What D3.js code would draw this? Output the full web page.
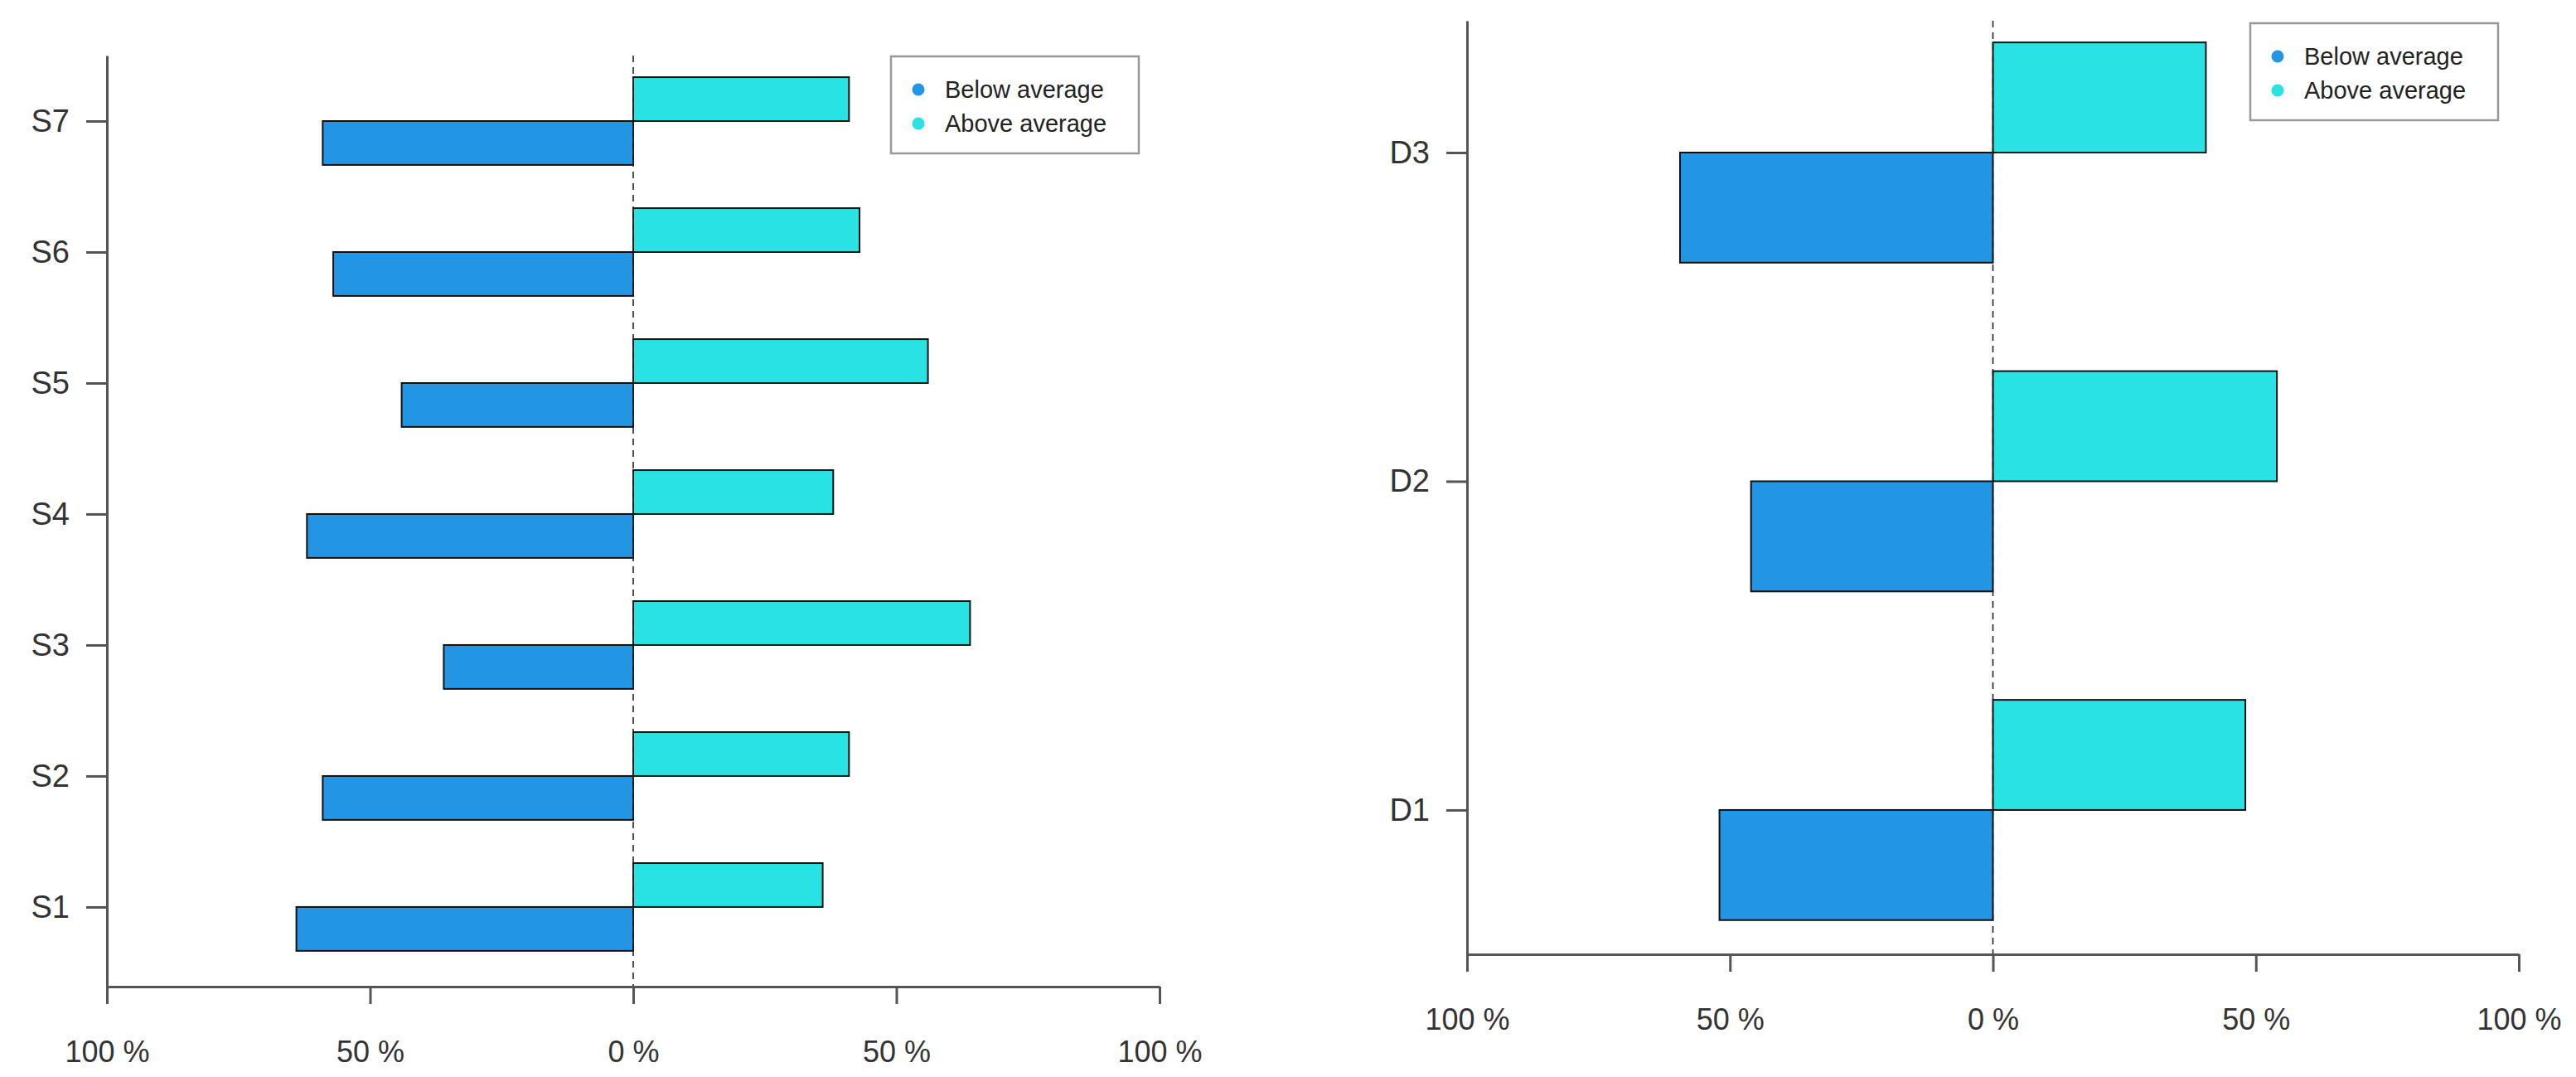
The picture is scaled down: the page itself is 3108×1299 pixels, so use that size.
<!DOCTYPE html>
<html>
<head>
<meta charset="utf-8">
<script src="https://cdn.jsdelivr.net/npm/d3@7"></script>
<style>
  html, body { margin: 0; padding: 0; background: #fff; }
  svg { display: block; font-family: "Liberation Sans", Arial, sans-serif; }
</style>
</head>
<body>
<svg id="chart" width="3108" height="1299"></svg>
<script>
// ---- data ----
const leftCategories = ["S1", "S2", "S3", "S4", "S5", "S6", "S7"];
const leftBelow = [64, 59, 36, 62, 44, 57, 59];
const leftAbove = [36, 41, 64, 38, 56, 43, 41];

const rightCategories = ["D1", "D2", "D3"];
const rightBelow = [52, 46, 59.5];
const rightAbove = [48, 54, 40.5];

const seriesNames = ["Below average", "Above average"];
const seriesColors = ["#2295E4", "#29E2E4"];
const xTickValues = [-100, -50, 0, 50, 100];

const svg = d3.select("#chart");

function panel(cfg) {
  const g = svg.append("g");
  const x = d3.scaleLinear().domain([-100, 100]).range([cfg.x0, cfg.x1]);
  const n = cfg.categories.length;
  const y = d3.scaleLinear().domain([cfg.yLo, n - 1 + cfg.yHi]).range([cfg.yBottom, cfg.yTop]);
  const h = 0.335;

  // bars
  const rows = cfg.categories.map((c, i) => ({ c, i, below: cfg.below[i], above: cfg.above[i] }));
  g.selectAll("rect.above").data(rows).join("rect")
    .attr("class", "above")
    .attr("x", d => x(0))
    .attr("y", d => y(d.i + h))
    .attr("width", d => x(d.above) - x(0))
    .attr("height", d => y(d.i) - y(d.i + h))
    .attr("fill", seriesColors[1])
    .attr("stroke", "#111").attr("stroke-width", 2);
  g.selectAll("rect.below").data(rows).join("rect")
    .attr("class", "below")
    .attr("x", d => x(-d.below))
    .attr("y", d => y(d.i))
    .attr("width", d => x(0) - x(-d.below))
    .attr("height", d => y(d.i - h) - y(d.i))
    .attr("fill", seriesColors[0])
    .attr("stroke", "#111").attr("stroke-width", 2);

  // zero dashed line
  g.append("line")
    .attr("x1", x(0)).attr("x2", x(0))
    .attr("y1", cfg.yTop).attr("y2", cfg.yBottom)
    .attr("stroke", "#222").attr("stroke-width", 1.6)
    .attr("stroke-dasharray", "8,6");

  // x axis
  const xAxis = d3.axisBottom(x).tickValues(xTickValues)
    .tickFormat(v => Math.abs(v) + " %").tickSize(21).tickSizeOuter(0).tickPadding(44);
  const gx = g.append("g").attr("transform", `translate(0,${cfg.yBottom})`).call(xAxis);
  gx.select(".domain").attr("stroke", "#555").attr("stroke-width", 3);
  gx.selectAll(".tick line").attr("stroke", "#555").attr("stroke-width", 3);
  gx.selectAll(".tick text").attr("font-size", 36).attr("fill", "#333")
    .attr("font-family", "Liberation Sans, Arial, sans-serif");

  // y axis
  const yAxis = d3.axisLeft(y).tickValues(d3.range(n))
    .tickFormat(i => cfg.categories[i]).tickSize(25).tickSizeOuter(0).tickPadding(20);
  const gy = g.append("g").attr("transform", `translate(${cfg.x0},0)`).call(yAxis);
  gy.select(".domain").attr("stroke", "#555").attr("stroke-width", 3);
  gy.selectAll(".tick line").attr("stroke", "#555").attr("stroke-width", 3);
  gy.selectAll(".tick text").attr("font-size", 38).attr("fill", "#333")
    .attr("font-family", "Liberation Sans, Arial, sans-serif");

  // legend
  const lg = g.append("g").attr("transform", `translate(${cfg.legX},${cfg.legY})`);
  lg.append("rect").attr("x", 0).attr("y", 0).attr("width", 299).attr("height", 117)
    .attr("fill", "#fff").attr("stroke", "#999").attr("stroke-width", 2.5);
  seriesNames.forEach((name, k) => {
    lg.append("circle").attr("cx", 33).attr("cy", 40 + k * 41).attr("r", 7.5)
      .attr("fill", seriesColors[k]);
    lg.append("text").attr("x", 65).attr("y", 40 + k * 41).attr("dy", "0.36em")
      .attr("font-size", 29).attr("fill", "#222").text(name);
  });
}

panel({
  categories: leftCategories, below: leftBelow, above: leftAbove,
  x0: 129, x1: 1399, yTop: 67, yBottom: 1190, yLo: -0.608, yHi: 0.5,
  legX: 1075, legY: 68
});
panel({
  categories: rightCategories, below: rightBelow, above: rightAbove,
  x0: 1770, x1: 3039, yTop: 25, yBottom: 1151, yLo: -0.439, yHi: 0.401,
  legX: 2715, legY: 28
});
</script>
</body>
</html>
